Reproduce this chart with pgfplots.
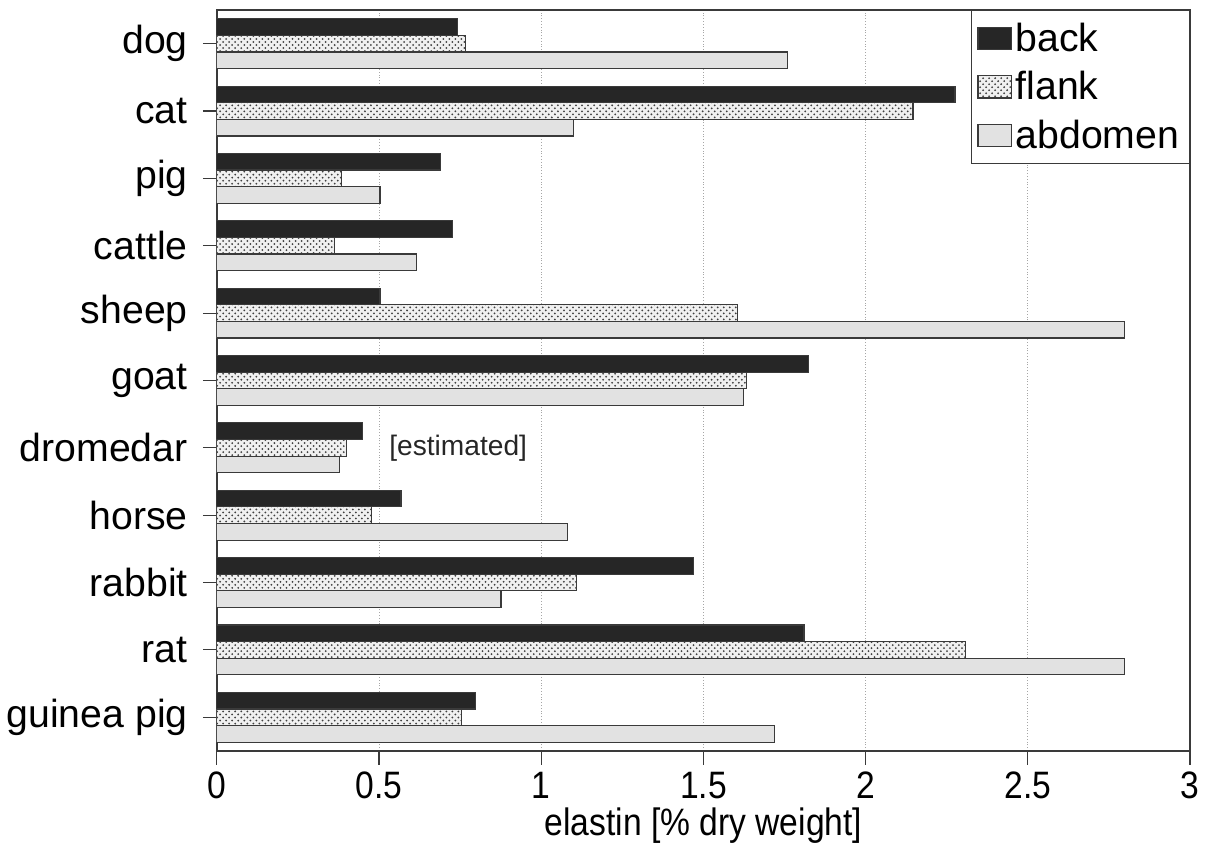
\documentclass[border=0pt]{standalone}
\usepackage{pgfplots}
\pgfplotsset{compat=1.18}
\usetikzlibrary{patterns}
\usepackage{fontspec}
\setmainfont{Liberation Sans}
\newfontfamily\narrowfont[FakeStretch=0.88]{Liberation Sans}
\definecolor{backc}{HTML}{262626}
\definecolor{abdc}{HTML}{E2E2E2}
\definecolor{edgec}{HTML}{3A3A3A}

% y: guinea pig=0 ... dog=10
\pgfplotstableread{
y back flank abdomen
10 0.742 0.767 1.760
9  2.276 2.146 1.100
8  0.689 0.385 0.503
7  0.727 0.363 0.615
6  0.503 1.606 2.798
5  1.823 1.634 1.624
4  0.450 0.400 0.379
3  0.568 0.478 1.081
2  1.469 1.109 0.876
1  1.810 2.307 2.798
0  0.798 0.755 1.720
}\datatable

\begin{document}
\begin{tikzpicture}
\begin{axis}[
  scale only axis, width=484pt, height=368.5pt,
  xbar, bar width=0.247,
  xmin=0, xmax=3, ymin=-0.5, ymax=10.5,
  xtick={0,0.5,...,3},
  ytick={0,...,10},
  yticklabels={guinea pig,rat,rabbit,horse,dromedar,goat,sheep,cattle,pig,cat,dog},
  tick pos=left, tick align=outside,
  major tick length=7pt,
  tick style={edgec, line width=0.6pt},
  axis line style={edgec, line width=0.9pt},
  xmajorgrids, grid style={densely dotted, gray!70, line width=0.5pt},
  /pgf/number format/assume math mode=true,
  xticklabel style={font=\narrowfont\fontsize{19}{22}\selectfont, /pgf/number format/.cd, fixed, use period},
  yticklabel style={font=\fontsize{19.5}{22}\selectfont, xshift=-4pt},
  xlabel={elastin [\% dry weight]},
  xlabel style={font=\narrowfont\fontsize{19}{22}\selectfont, yshift=2.5pt},
  legend style={at={(1,1)}, anchor=north east, draw=edgec, line width=0.6pt,
    font=\fontsize{19.5}{22}\selectfont, row sep=4.5pt, inner xsep=3pt, inner ysep=4pt,
    /tikz/every even column/.append style={column sep=1pt}},
  legend cell align=left,
  area legend,
  legend image code/.code={\draw[#1, line width=0.6pt] (0pt,-5.5pt) rectangle (16.5pt,5.5pt);},
]
\addplot[bar shift=0.247, fill=backc, draw=edgec, line width=0.6pt] table[x=back,y=y]{\datatable};
\addlegendentry{back}
\addplot[bar shift=0, fill=gray!12, draw=edgec, line width=0.6pt,
  postaction={pattern=crosshatch dots, pattern color=black!75}] table[x=flank,y=y]{\datatable};
\addlegendentry{flank}
\addplot[bar shift=-0.247, fill=abdc, draw=edgec, line width=0.6pt] table[x=abdomen,y=y]{\datatable};
\addlegendentry{abdomen}
\node[anchor=west, font=\fontsize{14}{16}\selectfont, text=black!85] at (axis cs:0.51,4) {[estimated]};
\coordinate (tr) at (rel axis cs:1,1);
\end{axis}
\path (tr) ++(9pt,5pt) coordinate (bb);
\path (bb) -- (bb);
\end{tikzpicture}
\end{document}
